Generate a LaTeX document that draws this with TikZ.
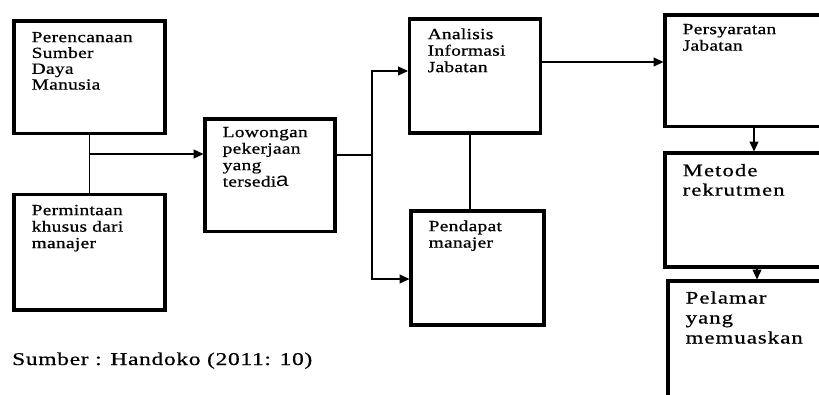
\documentclass[tikz,border=0pt]{standalone}
\usepackage{fontspec}
\setmainfont{Liberation Serif}
\newfontfamily\boxfont[FakeStretch=1.25,LetterSpace=2,FakeBold=0.7]{Liberation Serif}
\newfontfamily\bigboxfont[FakeStretch=1.3,LetterSpace=6,FakeBold=0.7]{Liberation Serif}
\newfontfamily\srcfont[FakeStretch=1.3,LetterSpace=4,FakeBold=0.7]{Liberation Serif}
\newfontfamily\oddfont[FakeStretch=1.15]{Liberation Sans}
\usetikzlibrary{arrows.meta,positioning}

\begin{document}
\begin{tikzpicture}[x=1pt,y=-1pt,
    box/.style={draw, line width=3.8pt, outer sep=0pt, inner sep=0pt, anchor=north west},
    boxtxt/.style={anchor=north west, inner sep=0pt, align=left,
        font=\boxfont\fontsize{15.5}{16.5}\selectfont},
    bigtxt/.style={boxtxt, font=\bigboxfont\fontsize{17.5}{19.5}\selectfont},
    conn/.style={line width=1.2pt},
    arr/.style={conn, shorten >=1.5pt, -{Triangle[length=10pt,width=9pt]}}]
    \useasboundingbox (0,0) rectangle (819,394);
    \clip (0,0) rectangle (819,394);

    % boxes
    \node[box, minimum width=151pt, minimum height=112.5pt] (plan) at (14,21) {};
    \node[box, minimum width=151pt, minimum height=115.5pt] (demand) at (14,194.5) {};
    \node[box, minimum width=130pt, minimum height=112.5pt] (vacancy) at (205,119) {};
    \node[box, minimum width=131pt, minimum height=114pt] (analysis) at (409.5,19) {};
    \node[box, minimum width=133pt, minimum height=114pt] (opinion) at (411,211) {};
    \node[box, minimum width=170pt, minimum height=111.5pt] (require) at (665,15) {};
    \node[box, minimum width=170pt, minimum height=114pt] (method) at (665,153) {};
    \node[box, minimum width=170pt, minimum height=130pt] (applicant) at (668,281) {};

    % texts
    \node[boxtxt, font=\boxfont\fontsize{15.5}{15.8}\selectfont, below right=9.9pt and 17.5pt of plan.north west] (planTxt)
        {\strut Perencanaan\\Sumber\\Daya\\Manusia};
    \node[boxtxt, below right=8.9pt and 17.5pt of demand.north west] (demandTxt)
        {\strut Permintaan\\khusus dari\\manajer};
    \node[boxtxt, below right=6.4pt and 17.5pt of vacancy.north west] (vacancyTxt)
        {\strut Lowongan\\pekerjaan\\yang\\tersedi{\oddfont\fontsize{19.5}{16.5}\selectfont a}};
    \node[boxtxt, below right=8.4pt and 18pt of analysis.north west] (analysisTxt)
        {\strut Analisis\\Informasi\\Jabatan};
    \node[boxtxt, below right=8.4pt and 17.5pt of opinion.north west] (opinionTxt)
        {\strut Pendapat\\manajer};
    \node[boxtxt, below right=7.4pt and 17.5pt of require.north west] (requireTxt)
        {\strut Persyaratan\\Jabatan};
    \node[bigtxt, below right=9.3pt and 17.5pt of method.north west] (methodTxt)
        {\strut Metode\\rekrutmen};
    \node[bigtxt, font=\bigboxfont\fontsize{17.5}{20}\selectfont, below right=8.3pt and 17.5pt of applicant.north west] (applicantTxt)
        {\strut Pelamar\\yang\\memuaskan};

    \node[anchor=base west, inner sep=0pt, font=\srcfont\fontsize{18}{20}\selectfont] (source) at (12,365)
        {Sumber : Handoko (2011: 10)};

    % connectors
    \coordinate (join) at (89.5,154);
    \coordinate (split) at (372,155);
    \draw[conn] (plan.south) -- (plan.south |- demand.north);
    \draw[arr] (join) -- (join -| vacancy.west);
    \draw[conn] (split -| vacancy.east) -- (split);
    \draw[arr] (split) |- ([yshift=5pt]analysis.west);
    \draw[arr] (split) |- ([yshift=-11pt]opinion.west);
    \draw[conn] ([xshift=-5pt]analysis.south) -- ([xshift=-5pt]analysis.south |- opinion.north);
    \draw[arr] ([yshift=14pt]analysis.east) -- ([yshift=14pt]analysis.east -| require.west);
    \draw[arr] ([xshift=89pt]require.south west) -- ([xshift=89pt]require.south west |- method.north);
    \draw[arr] ([xshift=92pt]method.south west) -- ([xshift=92pt]method.south west |- applicant.north);
\end{tikzpicture}
\end{document}
